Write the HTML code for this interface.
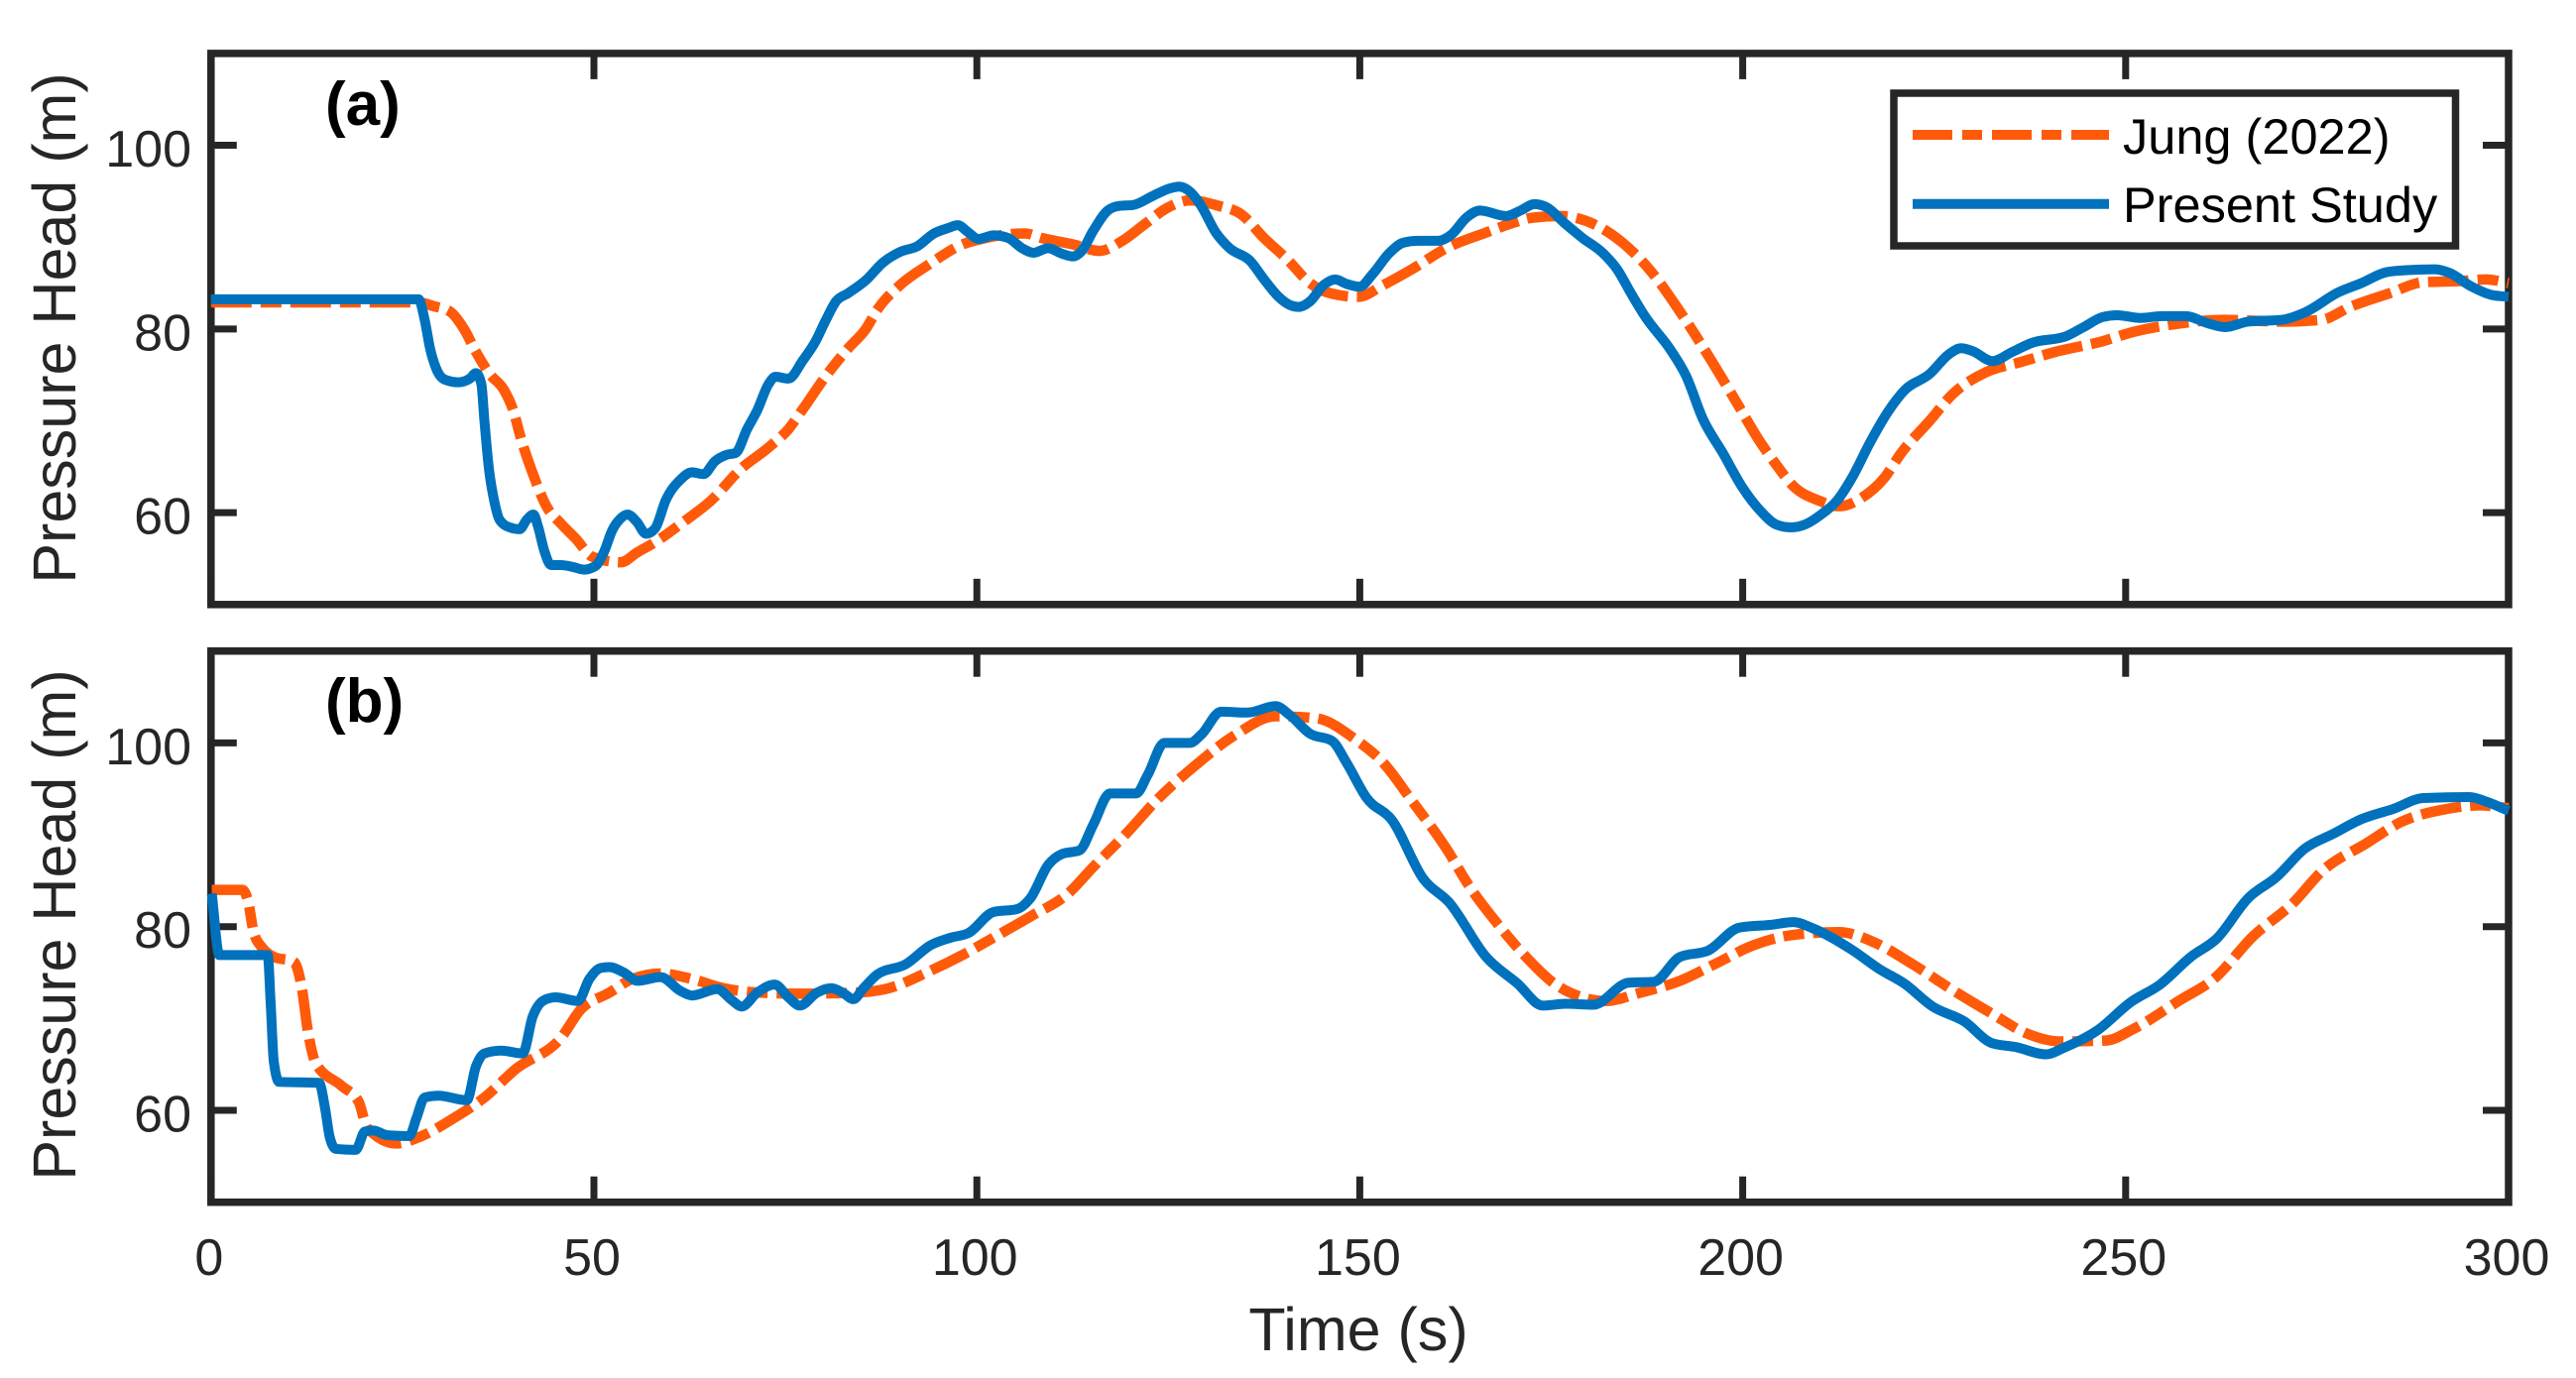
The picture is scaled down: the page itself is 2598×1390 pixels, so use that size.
<!DOCTYPE html>
<html lang="en">
<head>
<meta charset="utf-8">
<title>Pressure Head vs Time</title>
<style>
html,body{margin:0;padding:0;background:#fff;}
svg{display:block;}
text{font-family:"Liberation Sans",Arial,sans-serif;}
</style>
</head>
<body>
<svg id="chart" xmlns="http://www.w3.org/2000/svg" width="2598" height="1390" viewBox="0 0 2598 1390">
  <rect x="0" y="0" width="2598" height="1390" fill="#ffffff"/>
  <g id="panel-a"></g>
  <g id="panel-b"></g>
  <text x="328" y="126" font-size="62" font-weight="bold" fill="#000">(a)</text>
  <text x="328" y="728" font-size="62" font-weight="bold" fill="#000">(b)</text>
  <text transform="translate(76 331) rotate(-90)" text-anchor="middle" font-size="61" fill="#262626">Pressure Head (m)</text>
  <text transform="translate(76 933) rotate(-90)" text-anchor="middle" font-size="61" fill="#262626">Pressure Head (m)</text>
  <text x="1370" y="1362" text-anchor="middle" font-size="61" fill="#262626">Time (s)</text>
  <g>
    <rect x="1910" y="94" width="566.5" height="154" fill="#ffffff" stroke="#262626" stroke-width="7.5"/>
    <line x1="1929" y1="136" x2="2127" y2="136" stroke="#FF5A0A" stroke-width="10" stroke-dasharray="40 10 20 10"/>
    <text x="2141" y="155" font-size="50.5" fill="#000">Jung (2022)</text>
    <line x1="1929" y1="205.7" x2="2127" y2="205.7" stroke="#0072BD" stroke-width="10"/>
    <text x="2141" y="224" font-size="50.5" fill="#000">Present Study</text>
  </g>
</svg>
<script>
var xTicks = [0, 50, 100, 150, 200, 250, 300];
var yTicks = [60, 80, 100];
var xLimits = [0, 300];
var yLimits = [50, 110];

var aBlueTime = [0,27.1,27.9,28.6,29.4,30.5,32.3,33.8,34.6,35.3,35.7,36.3,37,37.7,39,40.3,41.2,42.1,42.7,43.5,44.4,45.7,47.2,48.7,50.2,51.3,52.4,53.4,54.4,55.6,56.8,58,59.4,61.3,62.8,64.3,65.8,67.3,68.5,70,71.3,72.8,73.7,75.4,77.3,78.9,80.3,81.6,83.2,85.5,87.7,90,92.2,94.4,96.3,97.5,98.9,100.2,102.2,104.1,105.9,107.4,109.3,111.1,112.5,113.7,115.2,117.1,118.6,120.4,123,125.2,126.4,127.9,129.3,131.2,133,135.7,137.5,139.4,140.9,142,143.5,145.3,146.8,148.3,150,151.6,153.9,155.7,157.6,160.2,162,163.9,165.7,169.1,171,172.8,174.3,176.9,179.1,181.7,183.6,185.4,187.3,190.6,192.6,194.8,197.4,200,202.2,204.4,206.3,208.1,210.4,212.2,214.4,216.6,218.9,221.1,224.4,227,228.5,230,232.6,235.2,237.8,242.2,244.5,247,248.9,251.9,254.8,257.8,260.8,263,266,270.4,273.4,277.8,280.8,284.1,286.7,290.4,292.3,295.2,297.8,300];
var aBlueHead = [83.24,83.24,81,77.9,75.7,74.5,74.2,74.6,75.2,74,70,64.7,61.2,59.2,58.4,58.2,59.2,59.8,58.5,55.9,54.3,54.3,54.1,53.8,54.2,55.7,58.1,59.3,59.8,59,57.7,58.3,61.4,63.6,64.4,64.2,65.6,66.3,66.5,69.1,71.1,74,74.8,74.6,76.6,78.6,81,83,83.9,85.3,87.2,88.4,89,90.4,91,91.3,90.5,89.8,90.2,89.9,88.8,88.3,88.8,88.2,87.9,88.5,90.7,92.9,93.4,93.5,94.5,95.3,95.5,94.9,93.4,90.5,88.8,87.4,85.4,83.5,82.6,82.4,83,84.8,85.4,84.9,84.6,85.9,88.3,89.4,89.6,89.6,90.3,92.1,92.9,92.3,92.9,93.6,93.3,91.4,89.9,88.3,86.5,83.9,81.3,77.7,74.9,70.2,66.5,62.7,60.3,58.7,58.4,58.7,59.9,61.2,64,67.6,70.9,73.3,75.1,77.3,77.9,77.6,76.5,77.5,78.5,79.2,80.2,81.3,81.5,81.2,81.4,81.4,80.6,80.2,80.8,81,81.8,84,85,86.2,86.4,86.5,86.1,84.6,83.7,83.5];

var aJungTime = [0,27.1,29,31.2,33.1,34.6,36.4,38.3,39.4,40.5,42,43.8,45.7,47.6,49.8,53.5,55.7,58,61.7,65.4,69.1,72.8,75.4,77.3,80.3,83.2,85.5,87,90,93.7,98.1,101.1,106.3,108.5,112.6,116,119,121.9,124.9,127.8,131.6,134.5,137.5,140.5,143.5,145.7,149.8,153.1,156.8,161.3,166.5,170.2,172.4,176.1,180.6,184.3,188,191.8,195.5,199.2,202.2,204.4,206.6,210,212.6,215.5,218.5,220.7,224.4,227.4,231.8,236.3,240.8,246.7,251.1,257.1,263,270.4,275.6,279.3,284.5,288.9,293.4,297.1,300];
var aJungHead = [82.9,82.9,82.5,81.9,79.9,77.5,75.1,73.3,71.3,68,64.3,60.7,58.8,57.2,55.2,54.6,55.7,56.8,59,61.4,64.7,67.1,69.1,71.3,74.9,77.9,80,82.1,84.8,87,89.2,89.9,90.4,89.9,89.2,88.5,89.6,91.4,93.2,94,93.4,92.5,89.9,87.6,85,84,83.5,84.8,86.5,88.8,90.5,91.6,92.1,92.3,91.4,89.4,86.3,81.9,77.1,72,67.8,65.2,62.9,61.3,60.7,61.6,63.8,66.5,70,72.9,75.3,76.4,77.5,78.6,79.7,80.6,81,80.8,81,82.4,83.9,85.1,85.2,85.4,85];

var bBlueTime = [0.1,1.1,7.4,7.8,8.2,8.9,14.1,14.9,15.5,16.3,18.9,20.1,21.2,23,25.9,26.8,27.9,29.7,33.4,34.6,35.7,37.9,40.7,42,43.5,45,47.9,49.4,50.9,52,53.9,55.7,58.7,61.3,62.8,66.1,68,69.3,71.3,73.6,75.4,76.9,79.1,81,82.5,83.9,85.1,87,90.7,94,96.6,98.9,102.2,105.2,107,109.3,111.1,113.4,115.2,117.4,120.8,122.3,124.5,127.8,129.3,131.9,135.3,139,140.9,143.5,146.4,148.3,150.9,154.2,158.3,161.7,166.5,170.6,173.9,176.9,180.5,185.1,188.4,191.8,195.5,199.6,203.7,206.6,209.2,214.4,217.8,221.1,224.8,228.9,232.6,235.6,239.6,241.9,246.3,250.7,254.5,258.5,261.9,266,269.7,273.4,277.1,280.8,284.9,288.9,294.9,297.1,300];
var bBlueHead = [83.6,76.9,76.9,71.5,65.3,63.1,63,60.2,57.1,55.8,55.7,57.7,57.8,57.3,57.2,59.1,61.4,61.6,61.1,64.8,66.2,66.5,66.2,70.2,72,72.3,71.9,74.3,75.5,75.6,75,74.1,74.5,73,72.5,73.2,72,71.3,72.8,73.7,72.3,71.4,72.8,73.3,72.8,72.1,73.2,74.8,75.9,78,78.8,79.3,81.6,81.9,83.1,86.7,87.9,88.3,91.1,94.5,94.5,96.5,100,100,100.9,103.4,103.3,104,103,101,100.2,97.8,94,91.6,85.2,82.6,76.7,73.8,71.4,71.6,71.5,73.9,74,76.7,77.4,79.9,80.2,80.5,79.8,77.4,75.4,73.8,71.3,69.7,67.3,66.9,66.1,66.8,68.7,71.8,73.7,76.7,78.7,83.1,85.4,88.5,90.1,91.7,92.8,94,94.1,93.6,92.6];

var bJungTime = [0.1,4.1,4.8,5.6,6.7,8.2,10.8,11.9,12.6,13.7,17,19.3,20.4,24.2,27.5,31.2,35.7,39.8,45.7,48.3,52,55,58.7,62.8,66.9,72.1,77.3,84,88.5,93.7,98.1,102.6,107,111.9,115.2,119.7,123.4,128.6,133.8,139,144.2,149.4,153.1,156.8,161.3,164.3,168,171.7,175.4,179.1,182.1,186.6,191.8,196.3,201.5,206.6,212.6,217.4,222.2,227.4,232.6,237,241.5,247.4,251.1,257.1,261.5,266.7,271.9,275.6,281.5,286,291.9,296.3,300];
var bJungHead = [84,84,82.9,79.3,77.7,76.7,76.2,73.1,68.9,65.1,62.7,60.9,58.1,56.4,57.2,58.9,61.4,64.5,67.9,71,72.8,74.3,74.9,74.3,73.3,72.8,72.7,72.8,73.3,75.1,76.9,79,81.1,83.6,86.5,90.3,93.7,97.6,100.9,102.9,102.7,100.4,97.8,93.7,88.5,84.4,80.3,76.7,73.8,72.3,71.9,72.8,74.1,75.9,78,79.1,79.4,78.2,75.9,73.1,70.5,68.4,67.5,67.6,68.9,72,74.3,79,82.6,86,89.1,91.4,92.8,93.2,92.9];

var SVG_NS = 'http://www.w3.org/2000/svg';
var AXIS_COLOR = '#262626';
var PLOT_LEFT = 212.8;
var PLOT_RIGHT = 2530;

function xScale(t) {
  return PLOT_LEFT + (t - xLimits[0]) / (xLimits[1] - xLimits[0]) * (PLOT_RIGHT - PLOT_LEFT);
}

function makeYScale(top, bottom) {
  return function (v) {
    return bottom - (v - yLimits[0]) / (yLimits[1] - yLimits[0]) * (bottom - top);
  };
}

function smoothPath(times, values, yScale) {
  var px = times.map(xScale);
  var py = values.map(yScale);
  var n = px.length;
  var s = [];
  var w = [];
  var i;
  for (i = 0; i < n - 1; i++) {
    w.push(px[i + 1] - px[i]);
    s.push((py[i + 1] - py[i]) / w[i]);
  }
  var m = [s[0]];
  for (i = 1; i < n - 1; i++) {
    var p = (s[i - 1] * w[i] + s[i] * w[i - 1]) / (w[i - 1] + w[i]);
    var sign = (Math.sign(s[i - 1]) + Math.sign(s[i]));
    m.push(sign * Math.min(Math.abs(s[i - 1]), Math.abs(s[i]), 0.5 * Math.abs(p)));
  }
  m.push(s[n - 2]);
  var d = 'M' + px[0].toFixed(2) + ' ' + py[0].toFixed(2);
  for (i = 0; i < n - 1; i++) {
    var h = w[i] / 3;
    d += 'C' + (px[i] + h).toFixed(2) + ' ' + (py[i] + m[i] * h).toFixed(2) + ' ' +
      (px[i + 1] - h).toFixed(2) + ' ' + (py[i + 1] - m[i + 1] * h).toFixed(2) + ' ' +
      px[i + 1].toFixed(2) + ' ' + py[i + 1].toFixed(2);
  }
  return d;
}

function drawPanel(group, top, bottom, jungTime, jungHead, blueTime, blueHead, showXLabels) {
  var yScale = makeYScale(top, bottom);

  var frame = document.createElementNS(SVG_NS, 'rect');
  
  
  frame.setAttribute('x', PLOT_LEFT);
  frame.setAttribute('y', top);
  frame.setAttribute('width', PLOT_RIGHT - PLOT_LEFT);
  frame.setAttribute('height', bottom - top);
  frame.setAttribute('fill', 'none');
  frame.setAttribute('stroke', AXIS_COLOR);
  frame.setAttribute('stroke-width', '7.5');
  group.appendChild(frame);

  var TICK = 26;
  xTicks.forEach(function (t) {
    [[top, top + TICK], [bottom, bottom - TICK]].forEach(function (ends) {
      var tick = document.createElementNS(SVG_NS, 'line');
      
      
      tick.setAttribute('x1', xScale(t));
      tick.setAttribute('x2', xScale(t));
      tick.setAttribute('y1', ends[0]);
      tick.setAttribute('y2', ends[1]);
      tick.setAttribute('stroke', AXIS_COLOR);
      tick.setAttribute('stroke-width', '7');
      group.appendChild(tick);
    });
    if (showXLabels) {
      var label = document.createElementNS(SVG_NS, 'text');
      
      
      label.setAttribute('x', xScale(t) - 2);
      label.setAttribute('y', 1286);
      label.setAttribute('text-anchor', 'middle');
      label.setAttribute('font-size', '52');
      label.setAttribute('fill', AXIS_COLOR);
      label.textContent = String(t);
      group.appendChild(label);
    }
  });

  yTicks.forEach(function (v) {
    [[PLOT_LEFT, PLOT_LEFT + TICK], [PLOT_RIGHT, PLOT_RIGHT - TICK]].forEach(function (ends) {
      var tick = document.createElementNS(SVG_NS, 'line');
      
      
      tick.setAttribute('x1', ends[0]);
      tick.setAttribute('x2', ends[1]);
      tick.setAttribute('y1', yScale(v));
      tick.setAttribute('y2', yScale(v));
      tick.setAttribute('stroke', AXIS_COLOR);
      tick.setAttribute('stroke-width', '7');
      group.appendChild(tick);
    });
    var label = document.createElementNS(SVG_NS, 'text');
    
    
    label.setAttribute('x', 193);
    label.setAttribute('y', yScale(v) + 21.5);
    label.setAttribute('text-anchor', 'end');
    label.setAttribute('font-size', '52');
    label.setAttribute('fill', AXIS_COLOR);
    label.textContent = String(v);
    group.appendChild(label);
  });

  var jung = document.createElementNS(SVG_NS, 'path');
  
  
  jung.setAttribute('d', smoothPath(jungTime, jungHead, yScale));
  jung.setAttribute('fill', 'none');
  jung.setAttribute('stroke', '#FF5A0A');
  jung.setAttribute('stroke-width', '10.5');
  jung.setAttribute('stroke-dasharray', '41 9 21 9');
  group.appendChild(jung);

  var blue = document.createElementNS(SVG_NS, 'path');
  
  
  blue.setAttribute('d', smoothPath(blueTime, blueHead, yScale));
  blue.setAttribute('fill', 'none');
  blue.setAttribute('stroke', '#0072BD');
  blue.setAttribute('stroke-width', '10');
  blue.setAttribute('stroke-linejoin', 'round');
  group.appendChild(blue);
}

drawPanel(document.getElementById('panel-a'), 53.9, 609.8, aJungTime, aJungHead, aBlueTime, aBlueHead, false);
drawPanel(document.getElementById('panel-b'), 656.7, 1212.7, bJungTime, bJungHead, bBlueTime, bBlueHead, true);
</script>
</body>
</html>
